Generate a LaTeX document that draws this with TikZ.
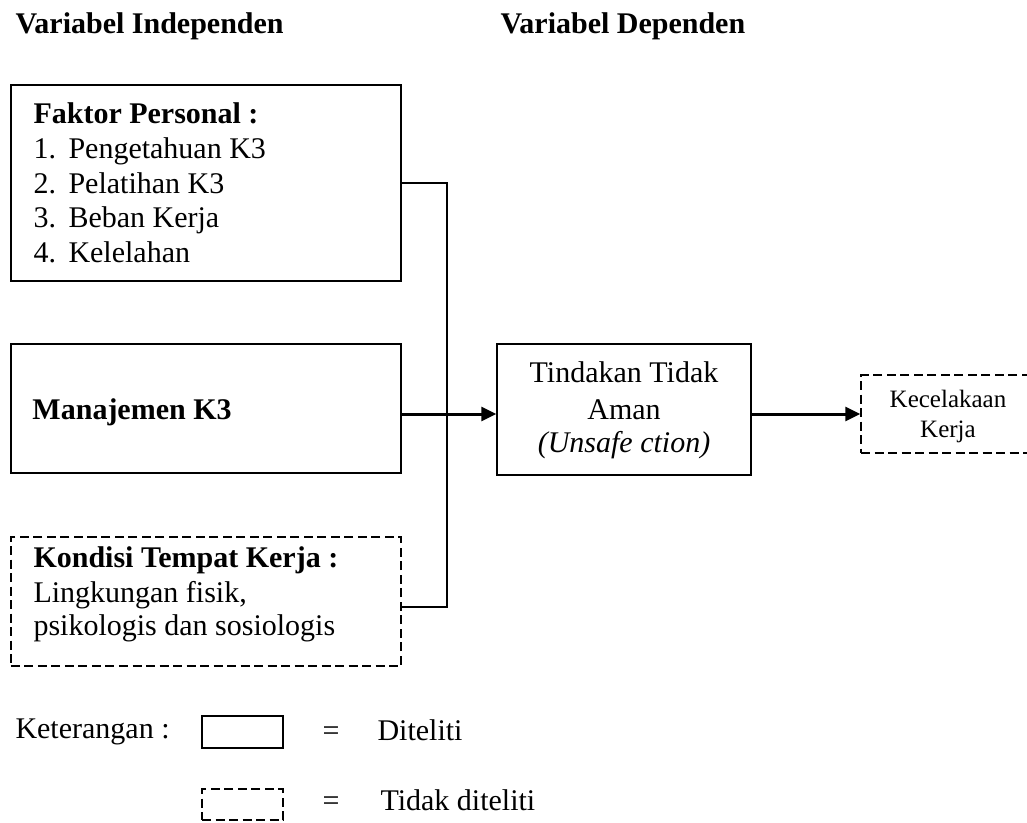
\documentclass[tikz,border=0pt]{standalone}
\usepackage{fontspec}
\setmainfont{Liberation Serif}
\usetikzlibrary{arrows.meta}
\begin{document}
\begin{tikzpicture}[x=0.4pt,y=-0.4pt,
  font=\fontsize{12}{13.8}\selectfont,
  box/.style={draw, line width=0.6pt, inner sep=0pt},
  dashbox/.style={box, dash pattern=on 3.6pt off 1.8pt},
  txt/.style={anchor=base west, inner sep=0pt},
  ctxt/.style={anchor=base, inner sep=0pt},
  link/.style={line width=0.8pt},
  arrow/.style={line width=1.2pt, -{Triangle[length=6pt,width=5.6pt]}}]
\useasboundingbox (0,0) rectangle (1027,822);

% headings
\node[txt, font=\fontsize{12}{13.8}\selectfont\bfseries] (hind) at (15,33) {Variabel Independen};
\node[txt, font=\fontsize{12}{13.8}\selectfont\bfseries] (hdep) at (500,33) {Variabel Dependen};

% independent variables
\node[box, minimum width=156pt, minimum height=78.4pt] (faktor) at (206,183) {};
\node[box, minimum width=156pt, minimum height=51.6pt] (manaj) at (206,408.5) {};
\node[dashbox, minimum width=156pt, minimum height=51.6pt] (kondisi) at (206,601.5) {};

\node[txt, font=\fontsize{12}{13.8}\selectfont\bfseries] (ft) at (33,123) {Faktor Personal :};
\node[txt] (n1) at (33,158) {1.};
\node[txt] (t1) at (68,158) {Pengetahuan K3};
\node[txt] (n2) at (33,193) {2.};
\node[txt] (t2) at (68,193) {Pelatihan K3};
\node[txt] (n3) at (33,227) {3.};
\node[txt] (t3) at (68,227) {Beban Kerja};
\node[txt] (n4) at (33,262) {4.};
\node[txt] (t4) at (68,262) {Kelelahan};

\node[txt, font=\fontsize{12}{13.8}\selectfont\bfseries] (mt) at (32,419) {Manajemen K3};

\node[txt, font=\fontsize{12}{13.8}\selectfont\bfseries] (kt) at (33,567) {Kondisi Tempat Kerja :};
\node[txt] (k1) at (33,602) {Lingkungan fisik,};
\node[txt] (k2) at (33,635) {psikologis dan sosiologis};

% dependent variable and outcome
\node[box, minimum width=101.6pt, minimum height=52.4pt] (tind) at (624,409.5) {};
\node[ctxt] (tt1) at (624,382) {Tindakan Tidak};
\node[ctxt] (tt2) at (624,419) {Aman};
\node[ctxt] (tt3) at (624,452) {\textit{(Unsafe ction)}};

\node[dashbox, minimum width=69.6pt, minimum height=31.2pt] (kec) at (948,414) {};
\node[ctxt, font=\fontsize{10}{12}\selectfont] (kc1) at (948,407) {Kecelakaan};
\node[ctxt, font=\fontsize{10}{12}\selectfont] (kc2) at (948,437) {Kerja};

% connectors
\coordinate (jtop) at (447,183);
\coordinate (jbot) at (447,607);
\draw[link] (faktor.east) -- (jtop) -- (jbot) -- (kondisi.east |- jbot);
\draw[arrow] (manaj.east |- kec.west) -- (tind.west |- kec.west);
\draw[arrow] (tind.east |- kec.west) -- (kec.west);

% legend
\node[txt] (ket) at (15,738) {Keterangan :};
\node[box, minimum width=32.4pt, minimum height=12.8pt] (lsolid) at (242.5,732) {};
\node[ctxt] (eq1) at (331,740) {=};
\node[txt] (l1) at (377,740) {Diteliti};
\node[dashbox, minimum width=32.4pt, minimum height=12.4pt] (ldash) at (242.5,804.5) {};
\node[ctxt] (eq2) at (331,810) {=};
\node[txt] (l2) at (380,810) {Tidak diteliti};
\end{tikzpicture}
\end{document}
